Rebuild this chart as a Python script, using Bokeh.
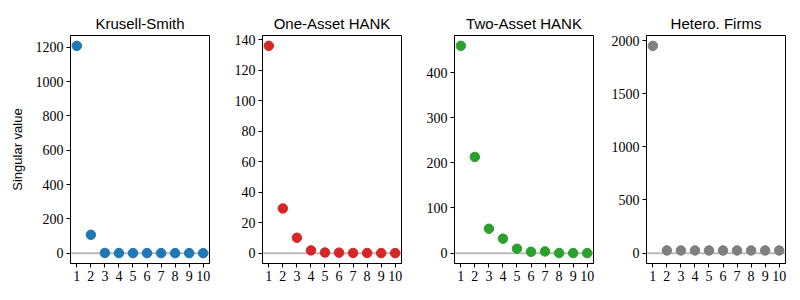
from bokeh.plotting import figure
from bokeh.layouts import row
from bokeh.models import Span, FixedTicker, ColumnDataSource
from bokeh.embed import file_html
from bokeh.resources import INLINE

index = [1, 2, 3, 4, 5, 6, 7, 8, 9, 10]

titles = ["Krusell-Smith", "One-Asset HANK", "Two-Asset HANK", "Hetero. Firms"]
colors = ["#1f77b4", "#d62728", "#2ca02c", "#7f7f7f"]

ks_values = [1208, 107, 0.9, 0.6, 0.4, 0.3, 0.2, 0.15, 0.1, 0.05]
one_asset_values = [136, 29.3, 10.1, 1.8, 0.4, 0.3, 0.1, 0.1, 0.05, 0.05]
two_asset_values = [459, 213, 54, 32, 9.7, 3.0, 3.7, 0.3, 0.2, 0.1]
firms_values = [1950, 25, 25, 25, 25, 25, 25, 25, 25, 25]

ks_ticks = [0, 200, 400, 600, 800, 1000, 1200]
one_asset_ticks = [0, 20, 40, 60, 80, 100, 120, 140]
two_asset_ticks = [0, 100, 200, 300, 400]
firms_ticks = [0, 500, 1000, 1500, 2000]

series = [ks_values, one_asset_values, two_asset_values, firms_values]
yticks = [ks_ticks, one_asset_ticks, two_asset_ticks, firms_ticks]

FRAME_W = 139
FRAME_H = 228
TOP = 35
BOTTOM = 29

figs = []
for i, (title, col, vals, ticks) in enumerate(zip(titles, colors, series, yticks)):
    lo = min(0, min(vals))
    hi = max(vals)
    pad = 0.05 * (hi - lo)
    left = 70 if i == 0 else 45
    right = 7 if i == 3 else 8
    p = figure(width=left + FRAME_W + right, height=TOP + FRAME_H + BOTTOM,
               x_range=(0.55, 10.45), y_range=(lo - pad, hi + pad),
               output_backend="svg", toolbar_location=None,
               min_border_left=left, min_border_right=right,
               min_border_top=TOP, min_border_bottom=BOTTOM)
    p.title.text = title
    p.title.align = "center"
    p.title.text_font = "Liberation Sans"
    p.title.text_font_size = "15px"
    p.title.text_font_style = "normal"
    p.title.text_color = "black"
    p.title.standoff = 8
    p.xgrid.visible = False
    p.ygrid.visible = False
    p.outline_line_color = "black"
    p.outline_line_alpha = 1
    p.outline_line_width = 1
    p.background_fill_color = "white"
    p.border_fill_color = "white"

    p.xaxis.ticker = FixedTicker(ticks=index)
    p.yaxis.ticker = FixedTicker(ticks=ticks)
    for ax in (p.xaxis[0], p.yaxis[0]):
        ax.major_tick_in = 0
        ax.major_tick_out = 4
        ax.minor_tick_line_color = None
        ax.axis_line_color = "black"
        ax.major_tick_line_color = "black"
        ax.major_label_text_font = "Liberation Serif"
        ax.major_label_text_font_size = "14px"
        ax.major_label_text_color = "black"
        ax.major_label_standoff = 3
    if i == 0:
        p.yaxis.axis_label = "Singular value"
        p.yaxis.axis_label_text_font = "Liberation Sans"
        p.yaxis.axis_label_text_font_size = "13px"
        p.yaxis.axis_label_text_font_style = "normal"
        p.yaxis.axis_label_text_color = "black"
        p.yaxis.axis_label_standoff = 8

    zero = Span(location=0, dimension="width", line_color="#bbbbbb",
                line_width=2, level="underlay")
    p.add_layout(zero)

    src = ColumnDataSource(dict(x=index, y=vals))
    p.scatter("x", "y", source=src, size=9.5, fill_color=col, line_color=col)
    figs.append(p)

layout = row(*figs)
open("out.html", "w").write(file_html(layout, INLINE))
